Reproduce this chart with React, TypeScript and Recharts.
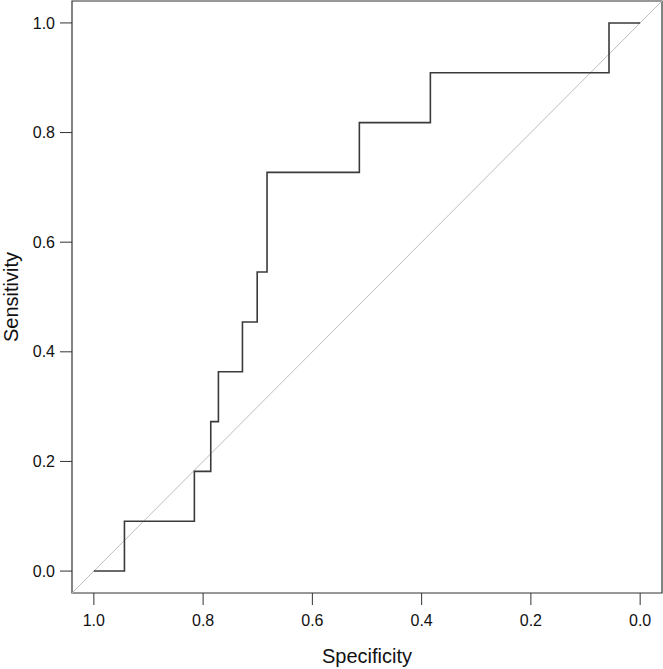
import React from "react";
import {
  LineChart,
  Line,
  XAxis,
  YAxis,
  ReferenceArea,
  ReferenceLine,
} from "recharts";

// ROC curve
const specificity = [1.0, 0.944, 0.816, 0.786, 0.772, 0.728, 0.701, 0.683, 0.514, 0.384, 0.057, 0.0];
const sensitivity = [0.0, 0.0909, 0.1818, 0.2727, 0.3636, 0.4545, 0.5455, 0.7273, 0.8182, 0.9091, 1.0, 1.0];
const tickValues = [1.0, 0.8, 0.6, 0.4, 0.2, 0.0];

const rocData = specificity.map((s, i) => ({ spec: s, sens: sensitivity[i] }));

const FONT = "'Liberation Sans', Arial, Helvetica, sans-serif";
const INK = "#333";

export default function App() {
  return (
    <div style={{ position: "absolute", left: 0, top: 0, width: 663, height: 669, background: "#fff" }}>
      <LineChart
        width={663}
        height={669}
        data={rocData}
        margin={{ top: 1, right: 1, left: 0, bottom: 0 }}
        style={{ fontFamily: FONT }}
      >
        <XAxis
          dataKey="spec"
          type="number"
          domain={[-0.04, 1.04]}
          reversed
          allowDataOverflow
          ticks={tickValues}
          tickFormatter={(v: number) => v.toFixed(1)}
          height={76}
          axisLine={false}
          tickLine={{ stroke: INK }}
          tickSize={12}
          tickMargin={10}
          tick={{ fill: "#111", fontSize: 16, fontFamily: FONT }}
          interval={0}
          label={{
            value: "Specificity",
            position: "insideBottom",
            offset: 6,
            fill: "#111",
            fontSize: 20,
            fontFamily: FONT,
          }}
        />
        <YAxis
          dataKey="sens"
          type="number"
          domain={[-0.04, 1.04]}
          allowDataOverflow
          ticks={tickValues}
          tickFormatter={(v: number) => v.toFixed(1)}
          width={72}
          axisLine={false}
          tickLine={{ stroke: INK }}
          tickSize={12}
          tickMargin={5}
          tick={{ fill: "#111", fontSize: 16, fontFamily: FONT }}
          interval={0}
          label={{
            content: (props: any) => {
              const vb = props.viewBox || {};
              const x = (vb.x || 0) + 18;
              const y = (vb.y || 0) + (vb.height || 0) / 2;
              return (
                <text
                  x={x}
                  y={y}
                  transform={`rotate(-90 ${x} ${y})`}
                  textAnchor="middle"
                  fill="#111"
                  fontSize={20}
                  fontFamily={FONT}
                >
                  Sensitivity
                </text>
              );
            },
          }}
        />
        <ReferenceArea
          x1={-0.04}
          x2={1.04}
          y1={-0.04}
          y2={1.04}
          fill="none"
          fillOpacity={0}
          stroke={INK}
          strokeWidth={1.2}
          ifOverflow="visible"
        />
        <ReferenceLine
          segment={[
            { x: 1.04, y: -0.04 },
            { x: -0.04, y: 1.04 },
          ]}
          stroke="#bdbdbd"
          strokeWidth={1}
          ifOverflow="visible"
        />
        <Line
          type="stepAfter"
          dataKey="sens"
          stroke="#3a3a3a"
          strokeWidth={1.6}
          dot={false}
          activeDot={false}
          isAnimationActive={false}
        />
      </LineChart>
    </div>
  );
}
